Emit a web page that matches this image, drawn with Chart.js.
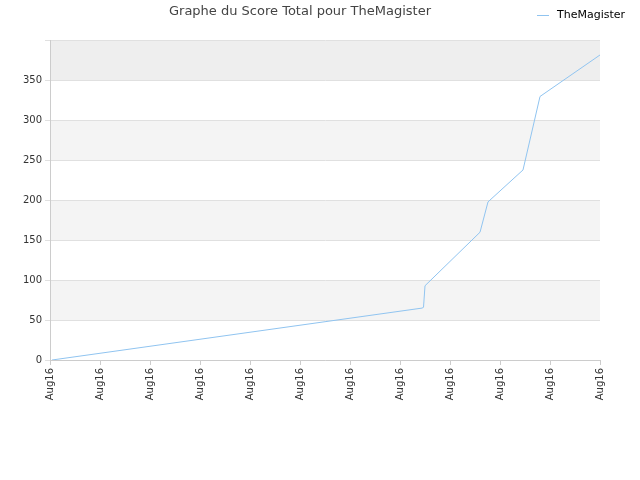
<!DOCTYPE html>
<html><head><meta charset="utf-8">
<script src="https://cdn.jsdelivr.net/npm/chart.js@4/dist/chart.umd.min.js"></script>
<style>body{margin:0;background:#fff}#w{width:640px;height:480px}</style></head>
<body><div id="w"><canvas id="c"></canvas></div>
<script>
const xPos = [0.04, 7.44, 7.47, 7.5, 8.6, 8.76, 9.46, 9.8, 11];
const scores = [0, 65, 66, 93, 160, 198, 238, 330, 382];
const xLabels = ["Aug16","Aug16","Aug16","Aug16","Aug16","Aug16","Aug16","Aug16","Aug16","Aug16","Aug16","Aug16"];
const bands = {id:'bands',beforeDraw(ch){const {ctx,chartArea:a,scales:{y}}=ch;ctx.save();
 for(let v=0;v<400;v+=50){const i=v/50;let col=null;if(i%2==1)col='#f4f4f4';if(v==350)col='#eeeeee';
  if(col){ctx.fillStyle=col;const t=y.getPixelForValue(v+50),b=y.getPixelForValue(v);ctx.fillRect(a.left,t,a.right-a.left,b-t);}}
 ctx.restore();}};
new Chart(document.getElementById('c'),{type:'line',
 data:{datasets:[{label:'TheMagister',data:xPos.map((x,i)=>({x,y:scores[i]})),borderColor:'#90c4f0',backgroundColor:'#90c4f0',borderWidth:1,pointRadius:0,tension:0}]},
 options:{responsive:true,maintainAspectRatio:false,animation:false,
  layout:{padding:{left:0,right:40,top:0,bottom:40}},
  plugins:{title:{display:true,text:'Graphe du Score Total pour TheMagister',color:'#444',font:{family:'DejaVu Sans',size:13,weight:'normal'},padding:{top:4,bottom:21}},
   legend:{display:false}},
  scales:{x:{type:'linear',min:0,max:11,afterFit:s=>{s.height=80},ticks:{stepSize:1,autoSkip:false,maxRotation:90,minRotation:90,color:'#333',font:{family:'DejaVu Sans',size:10},callback:(v)=>xLabels[v]},grid:{display:true,drawOnChartArea:false,color:'#ccc',tickLength:5},border:{color:'#ccc'}},
   y:{min:0,max:400,afterFit:s=>{s.width=50},ticks:{stepSize:50,color:'#333',font:{family:'DejaVu Sans',size:10},callback:v=>v==400?'':v},grid:{color:'#e0e0e0',tickLength:5},border:{color:'#ccc'}}}},
 plugins:[bands,{id:'leg',afterDraw(ch){const c=ch.ctx;c.save();c.strokeStyle='#90c4f0';c.beginPath();c.moveTo(537,15.5);c.lineTo(549,15.5);c.stroke();
  c.fillStyle='#000';c.font='11px DejaVu Sans';c.textBaseline='middle';c.fillText('TheMagister',557,15);c.restore();}}]
});
</script></body></html>
